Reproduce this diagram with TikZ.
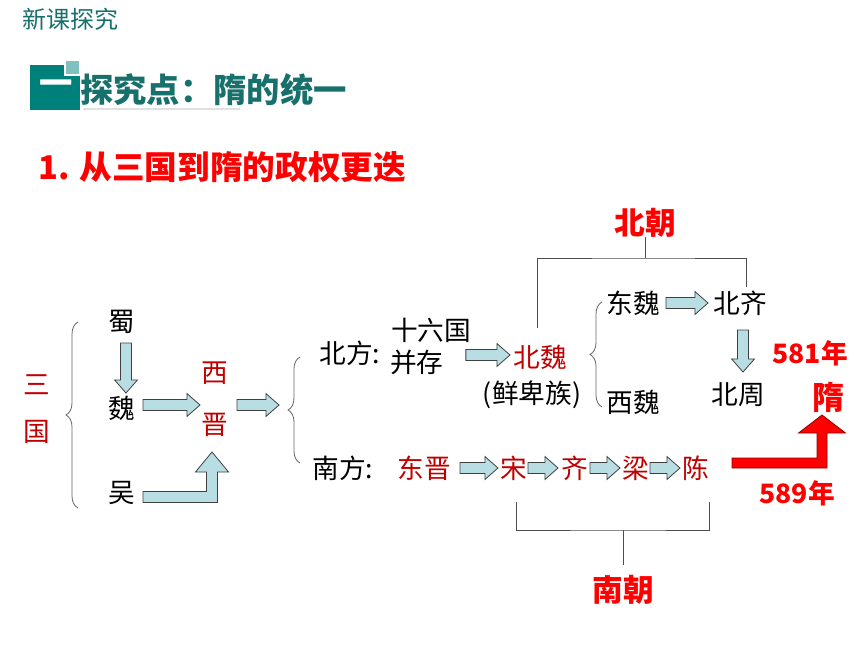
\documentclass[tikz,border=0pt]{standalone}
\usepackage{fontspec}
\setmainfont{Noto Sans CJK SC}
\usetikzlibrary{calc, decorations.pathreplacing}
\definecolor{tealdark}{HTML}{17706B}
\definecolor{tealbox}{HTML}{00807A}
\definecolor{teallight}{HTML}{80C0BE}
\definecolor{hanred}{HTML}{C00000}
\definecolor{keyred}{HTML}{FF0000}
\definecolor{arrowfill}{HTML}{B8DEE3}
\definecolor{arrowline}{HTML}{404040}

\newcommand{\sz}[1]{\fontsize{#1pt}{#1pt}\selectfont}

\tikzset{
  plain/.style={inner sep=0pt, font=\sz{20}},
  dynasty/.style={plain, text=hanred},
  keyword/.style={inner sep=0pt, text=keyred, font=\sz{#1}\bfseries},
  fatarrow/.style={fill=arrowfill, draw=arrowline, line width=0.6pt},
  redarrow/.style={fill=keyred, draw=keyred!55!black, line width=0.6pt},
  bracket/.style={draw=black!70, line width=0.7pt},
  curly/.style={decorate, decoration={brace, amplitude=9pt}, draw=black!60, line width=0.6pt}
}

% block arrow, left to right
\newcommand{\harrow}[2]{%
  \draw[fatarrow] let \p1=#1, \p2=#2 in
    (\x1,\y1-4.1pt) -- (\x2-9.8pt,\y1-4.1pt) -- (\x2-9.8pt,\y1-8.6pt) -- (\x2,\y1)
    -- (\x2-9.8pt,\y1+8.6pt) -- (\x2-9.8pt,\y1+4.1pt) -- (\x1,\y1+4.1pt) -- cycle;}
% block arrow, top to bottom
\newcommand{\varrow}[2]{%
  \draw[fatarrow] let \p1=#1, \p2=#2 in
    (\x1-4.1pt,\y1) -- (\x1-4.1pt,\y2+9.8pt) -- (\x1-8.6pt,\y2+9.8pt) -- (\x1,\y2)
    -- (\x1+8.6pt,\y2+9.8pt) -- (\x1+4.1pt,\y2+9.8pt) -- (\x1+4.1pt,\y1) -- cycle;}
% bent block arrow: right, then up (style, from, to, shaft, head half, head length)
\newcommand{\barrow}[6]{%
  \draw[#1] let \p1=#2, \p2=#3 in
    (\x1,\y1+#4) -- (\x2-#4,\y1+#4) -- (\x2-#4,\y2-#6) -- (\x2-#5,\y2-#6) -- (\x2,\y2)
    -- (\x2+#5,\y2-#6) -- (\x2+#4,\y2-#6) -- (\x2+#4,\y1-#4) -- (\x1,\y1-#4) -- cycle;}

\begin{document}
\begin{tikzpicture}[x=0.75pt, y=-0.75pt]
    \useasboundingbox (0,0) rectangle (860,645);

    % Header
    \node[anchor=west, inner sep=0pt, text=tealdark, font=\sz{18}] (hdr) at (22,19) {新课探究};
    \fill[tealbox] (30,65) rectangle (80,110);
    \filldraw[fill=teallight, draw=white, line width=1pt] (65,60) rectangle (80,75);
    \node[inner sep=0pt, text=white, font=\sz{25}\bfseries] (yi) at (56,88) {一};
    \node[anchor=west, inner sep=0pt, text=tealdark, font=\sz{25}\bfseries] (title) at (80,90) {探究点：隋的统一};
    \draw[black!12, line width=1.2pt] (83,109) -- (240,109);
    \node[anchor=west, keyword=24.5] (sub) at (38,167) {1. 从三国到隋的政权更迭};

    % Three Kingdoms
    \node[dynasty] (san) at (37,385) {三};
    \node[dynasty] (guo) at (37,432) {国};
    \draw[curly] (78,508) -- (78,322);
    \node[plain] (shu) at (122,322) {蜀};
    \node[plain] (wei) at (122,408) {魏};
    \node[plain] (wu) at (122,493) {吴};
    \node[dynasty] (xi) at (215,373) {西};
    \node[dynasty] (jin) at (215,425) {晋};
    \varrow{($(shu)+(4,21)$)}{($(wei)+(4,-15)$)}
    \harrow{($(wei)+(21,-3)$)}{($(xi)+(-15,0)$)}
    \barrow{fatarrow}{($(wu)+(21,4)$)}{($(jin)+(-3,27)$)}{4.1pt}{12.4pt}{15pt}

    % North and South
    \coordinate (split) at (287,413);
    \harrow{($(jin)+(22,-20)$)}{($(split)+(-8,0)$)}
    \draw[curly] (300,463) -- (300,357);
    \node[plain] (beifang) at (350,353) {北方:};
    \node[plain] (shiliu) at (431,330) {十六国};
    \node[plain, anchor=west] (bingcun) at (390,362) {并存};
    \node[dynasty] (beiwei) at (540,357) {北魏};
    \node[plain] (xianbei) at (532,395) {(鲜卑族)};
    \harrow{($(bingcun.east)+(22,-7)$)}{($(beiwei)+(-30,0)$)}

    % Northern dynasties
    \draw[curly] (602,407) -- (602,302);
    \node[plain] (dongwei) at (633,303) {东魏};
    \node[plain] (xiwei) at (633,402) {西魏};
    \node[plain] (beiqi) at (740,303) {北齐};
    \node[plain] (beizhou) at (738,395) {北周};
    \harrow{($(dongwei)+(33,0)$)}{($(beiqi)+(-32,0)$)}
    \varrow{($(beiqi)+(3,27)$)}{($(beizhou)+(5,-23)$)}

    % Southern dynasties
    \node[plain] (nanfang) at (343,468) {南方:};
    \node[dynasty] (dongjin) at (424,468) {东晋};
    \node[dynasty] (song) at (514,468) {宋};
    \node[dynasty] (qi) at (575,468) {齐};
    \node[dynasty] (liang) at (636,468) {梁};
    \node[dynasty] (chen) at (696,468) {陈};
    \harrow{($(dongjin)+(36,0)$)}{($(song)+(-16,0)$)}
    \harrow{($(song)+(14,0)$)}{($(qi)+(-17,0)$)}
    \harrow{($(qi)+(15,0)$)}{($(liang)+(-16,0)$)}
    \harrow{($(liang)+(14,0)$)}{($(chen)+(-16,0)$)}

    % Sui
    \node[keyword=20] (y581) at (810,353) {581年};
    \node[keyword=24] (sui) at (828,397) {隋};
    \node[keyword=20] (y589) at (797,493) {589年};
    \barrow{redarrow}{($(chen)+(36,-5)$)}{($(sui)+(-6,18)$)}{3.75pt}{17.6pt}{13.5pt}

    % Brackets
    \node[keyword=23] (beichao) at (645,223) {北朝};
    \coordinate (nbar) at (645,258);
    \draw[bracket] ($(beichao)+(0,14)$) -- (nbar);
    \draw[bracket] ($(beiwei)+(-3,-29)$) |- (nbar) -| ($(beiqi)+(6,-16)$);
    \node[keyword=23] (nanchao) at (623,590) {南朝};
    \coordinate (sbar) at (623,530);
    \draw[bracket] ($(song)+(2,34)$) |- (sbar) -| ($(chen)+(13,34)$);
    \draw[bracket] (sbar) -- ($(nanchao)+(0,-25)$);
\end{tikzpicture}
\end{document}
